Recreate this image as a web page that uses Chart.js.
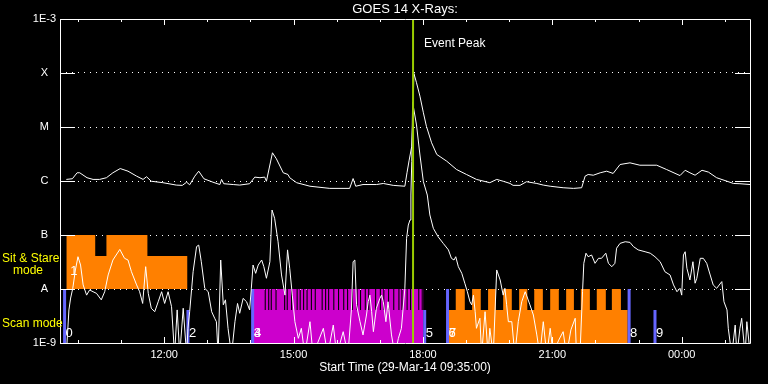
<!DOCTYPE html>
<html>
<head>
<meta charset="utf-8">
<title>GOES 14 X-Rays</title>
<script src="https://cdn.jsdelivr.net/npm/chart.js@4.4.0/dist/chart.umd.min.js"></script>
<style>
  html, body { margin: 0; padding: 0; background: #000; }
</style>
</head>
<body>
<canvas id="goes" width="768" height="384"></canvas>
<script>
// time is in decimal hours of 29-Mar-14 (values past 24 are after midnight)
const startHour = 9 + 35 / 60;
const endHour = startHour + 16;
const hourTicks = [10, 11, 12, 13, 14, 15, 16, 17, 18, 19, 20, 21, 22, 23, 24, 25];

const yTickValues = [1e-9, 1e-8, 1e-7, 1e-6, 1e-5, 1e-4, 1e-3];
const yTickLabels = ["1E-9", "A", "B", "C", "M", "X", "1E-3"];

// long channel (upper white curve)
const longTimes = [9.73, 9.87, 9.98, 10.04, 10.21, 10.35, 10.50, 10.66, 10.81, 10.98,
  11.16, 11.36, 11.51, 11.59, 11.70, 11.97, 12.28, 12.42, 12.52, 12.59,
  12.71, 12.80, 12.92, 13.13, 13.29, 13.33, 13.38, 13.60, 13.75, 13.98,
  14.10, 14.22, 14.33, 14.37, 14.51, 14.60, 14.76, 14.87, 14.91, 15.07,
  15.38, 15.84, 16.30, 16.38, 16.44, 16.61, 16.92, 17.08, 17.31, 17.58,
  17.63, 17.68, 17.74, 17.76, 17.79, 17.85, 17.93, 18.01, 18.08, 18.20,
  18.32, 18.55, 18.78, 19.01, 19.24, 19.55, 19.71, 19.86, 20.02, 20.09,
  20.25, 20.40, 20.64, 20.79, 20.95, 21.25, 21.49, 21.68, 21.76, 21.83,
  21.95, 22.11, 22.26, 22.41, 22.57, 22.80, 23.03, 23.42, 23.65, 23.96,
  24.08, 24.19, 24.31, 24.47, 24.62, 24.81, 25.05, 25.20, 25.35, 25.59];
const longFlux = [1.07e-6, 1.10e-6, 1.42e-6, 1.42e-6, 1.15e-6, 1.07e-6, 1.07e-6, 1.15e-6, 1.42e-6, 1.70e-6,
  1.52e-6, 1.23e-6, 1.07e-6, 1.20e-6, 0.99e-6, 0.93e-6, 0.84e-6, 0.83e-6, 0.95e-6, 0.85e-6,
  1.23e-6, 1.52e-6, 1.10e-6, 0.95e-6, 0.86e-6, 1.07e-6, 0.89e-6, 0.86e-6, 0.84e-6, 0.89e-6,
  1.18e-6, 1.15e-6, 1.18e-6, 0.99e-6, 3.33e-6, 2.58e-6, 1.42e-6, 1.32e-6, 1.15e-6, 0.93e-6,
  0.80e-6, 0.73e-6, 0.73e-6, 1.11e-6, 0.80e-6, 0.86e-6, 0.86e-6, 0.90e-6, 0.83e-6, 0.80e-6,
  1.42e-6, 2.43e-6, 4.41e-6, 1.20e-5, 9.8e-5, 6.6e-5, 3.72e-5, 1.83e-5, 1.03e-5, 5.1e-6,
  3.10e-6, 2.33e-6, 1.63e-6, 1.32e-6, 1.07e-6, 0.93e-6, 1.07e-6, 0.99e-6, 0.90e-6, 0.83e-6,
  0.83e-6, 0.97e-6, 0.90e-6, 0.84e-6, 0.80e-6, 0.75e-6, 0.73e-6, 0.75e-6, 1.23e-6, 1.32e-6,
  1.28e-6, 1.42e-6, 1.52e-6, 1.38e-6, 2.02e-6, 2.17e-6, 1.96e-6, 1.96e-6, 1.63e-6, 1.26e-6,
  1.58e-6, 1.42e-6, 1.28e-6, 1.58e-6, 1.46e-6, 1.15e-6, 0.99e-6, 0.90e-6, 0.89e-6, 0.86e-6];

// short channel (lower noisy curve); 6e-10 = below the plotted range
const shortTimes = [9.73, 9.79, 9.83, 9.88, 9.94, 10.00, 10.06, 10.12, 10.20, 10.27,
  10.35, 10.43, 10.54, 10.62, 10.70, 10.81, 10.97, 11.08, 11.16, 11.24,
  11.36, 11.43, 11.50, 11.57, 11.63, 11.70, 11.78, 11.86, 11.94, 12.01,
  12.09, 12.17, 12.24, 12.30, 12.36, 12.44, 12.52, 12.55, 12.59, 12.67,
  12.75, 12.80, 12.86, 12.94, 13.02, 13.10, 13.17, 13.21, 13.25, 13.31,
  13.37, 13.42, 13.48, 13.56, 13.64, 13.70, 13.75, 13.83, 13.91, 13.98,
  14.02, 14.06, 14.12, 14.18, 14.26, 14.31, 14.37, 14.45, 14.50, 14.56,
  14.64, 14.72, 14.80, 14.86, 14.91, 14.97, 15.03, 15.11, 15.18, 15.26,
  15.38, 15.45, 15.69, 15.79, 15.92, 16.00, 16.15, 16.26, 16.34, 16.38,
  16.42, 16.46, 16.54, 16.61, 16.69, 16.73, 16.77, 16.81, 16.85, 16.92,
  17.00, 17.04, 17.08, 17.14, 17.19, 17.27, 17.35, 17.43, 17.50, 17.58,
  17.62, 17.66, 17.70, 17.72, 17.74, 17.76, 17.85, 17.93, 18.01, 18.10,
  18.16, 18.24, 18.35, 18.47, 18.59, 18.66, 18.72, 18.76, 18.82, 18.90,
  18.97, 19.03, 19.09, 19.13, 19.17, 19.21, 19.24, 19.32, 19.36, 19.44,
  19.51, 19.55, 19.63, 19.71, 19.79, 19.86, 19.90, 19.94, 19.98, 20.06,
  20.13, 20.21, 20.29, 20.37, 20.40, 20.48, 20.56, 20.64, 20.71, 20.79,
  20.87, 20.95, 21.02, 21.14, 21.25, 21.33, 21.43, 21.53, 21.56, 21.64,
  21.70, 21.73, 21.78, 21.83, 21.91, 21.99, 22.07, 22.14, 22.24, 22.30,
  22.38, 22.45, 22.49, 22.57, 22.69, 22.80, 22.88, 22.99, 23.15, 23.27,
  23.38, 23.50, 23.61, 23.73, 23.81, 23.89, 23.96, 24.00, 24.04, 24.08,
  24.12, 24.19, 24.26, 24.31, 24.35, 24.43, 24.50, 24.58, 24.66, 24.73,
  24.81, 24.93, 24.98, 25.05, 25.08, 25.16, 25.24, 25.28, 25.35, 25.39,
  25.47, 25.51, 25.59];
const shortFlux = [6e-10, 4.1e-9, 6.8e-9, 1.03e-8, 2.25e-8, 3.96e-8, 2.78e-8, 1.19e-8, 7.7e-9, 9.6e-9,
  8.9e-9, 8.3e-9, 6.3e-9, 8.9e-9, 1.82e-8, 3.44e-8, 5.4e-8, 3.7e-8, 3.44e-8, 2.09e-8,
  1.19e-8, 8.9e-9, 5.4e-9, 2.59e-8, 8.3e-9, 4.4e-9, 3.8e-9, 5.8e-9, 8.9e-9, 5.4e-9,
  8.9e-9, 4.7e-9, 6e-10, 4.1e-9, 6e-10, 4.4e-9, 6e-10, 1.87e-9, 3.8e-9, 2.09e-8,
  6.1e-8, 6.5e-8, 3.2e-8, 1.03e-8, 8.9e-9, 3.8e-9, 2.87e-9, 2.48e-9, 6e-10, 3.44e-8,
  5.1e-9, 6.3e-9, 1.87e-9, 6e-10, 2.48e-9, 5.4e-9, 3.55e-9, 6.7e-9, 5.8e-9, 4.1e-9,
  1.03e-8, 2.78e-8, 1.95e-8, 2.78e-8, 3.44e-8, 2.59e-8, 1.58e-8, 3.2e-8, 2.9e-7, 2.04e-7,
  7.5e-8, 1.82e-8, 7.7e-9, 5.3e-8, 2.42e-8, 7.7e-9, 2.48e-9, 1.22e-9, 1.87e-9, 6e-10,
  2.48e-9, 6e-10, 1.87e-9, 6e-10, 2.15e-9, 6e-10, 1.62e-9, 6e-10, 4.1e-9, 3.2e-8,
  3.44e-8, 5.1e-9, 2.48e-9, 1.41e-9, 3.3e-9, 5.8e-9, 7.7e-9, 3.8e-9, 1.62e-9, 4.4e-9,
  6.7e-9, 7.7e-9, 5.8e-9, 2.48e-9, 5.8e-9, 1.41e-9, 6e-10, 1.22e-9, 1.87e-9, 1.03e-8,
  8.7e-8, 1.53e-7, 1.90e-7, 5.5e-7, 2.28e-6, 2.87e-5, 1.09e-5, 3.03e-6, 9.7e-7, 5.5e-7,
  2.35e-7, 1.33e-7, 9.3e-8, 7.0e-8, 5.3e-8, 3.7e-8, 3.44e-8, 3.96e-8, 2.59e-8, 1.95e-8,
  1.28e-8, 8.9e-9, 5.8e-9, 5.1e-9, 7.7e-9, 3.8e-9, 1.87e-9, 2.87e-9, 6e-10, 3.8e-9,
  6e-10, 1.87e-9, 6e-10, 2.25e-8, 1.47e-8, 7.7e-9, 1.03e-8, 5.1e-9, 2.48e-9, 2.48e-9,
  6e-10, 2.48e-9, 5.8e-9, 8.9e-9, 7.7e-9, 5.1e-9, 3.3e-9, 1.41e-9, 6e-10, 2.48e-9,
  6e-10, 1.87e-9, 6e-10, 1.1e-9, 1.62e-9, 6e-10, 1.75e-9, 2.87e-9, 6e-10, 6e-10,
  8.9e-9, 2.99e-8, 4.6e-8, 3.96e-8, 4.26e-8, 2.99e-8, 3.7e-8, 3.7e-8, 4.6e-8, 2.99e-8,
  2.59e-8, 2.99e-8, 5.7e-8, 7.0e-8, 7.5e-8, 7.3e-8, 6.1e-8, 5.3e-8, 4.9e-8, 4.6e-8,
  3.96e-8, 3.2e-8, 2.09e-8, 1.82e-8, 1.19e-8, 8.9e-9, 1.03e-8, 7.7e-9, 4.26e-8, 4.9e-8,
  2.42e-8, 1.47e-8, 3.2e-8, 1.28e-8, 1.58e-8, 3.7e-8, 3.7e-8, 2.99e-8, 1.82e-8, 1.19e-8,
  1.03e-8, 1.37e-8, 5.8e-9, 4.1e-9, 1.87e-9, 6e-10, 2.15e-9, 6e-10, 1.87e-9, 2.87e-9,
  6e-10, 2.48e-9, 6e-10];

// observing-mode bands
const stareTimes = [9.73, 10.40, 10.66, 11.61, 12.54];
const stareLevels = [1e-7, 4.1e-8, 1e-7, 4.1e-8, 4.1e-8];

const scanStart = 14.08;
const scanEnd = 18.01;
const scanGapTimes = [14.33, 14.41, 14.47, 14.58, 14.78, 14.84, 14.94, 15.07, 15.14, 15.22,
  15.30, 15.40, 15.49, 15.65, 15.73, 15.80, 15.92, 16.03, 16.15, 16.24,
  16.35, 16.46, 16.54, 16.65, 16.73, 16.89, 17.00, 17.08, 17.19, 17.31,
  17.43, 17.50, 17.62, 17.70, 17.89, 17.97];

const scan2Times = [18.56, 18.76, 18.97, 19.14, 19.34, 19.51, 19.69, 19.86, 20.06, 20.23,
  20.42, 20.58, 20.78, 20.95, 21.15, 21.32, 21.50, 21.66, 21.87, 22.03,
  22.24, 22.38, 22.59, 22.75];
const scan2Levels = [4.1e-9, 1e-8, 4.1e-9, 1e-8, 4.1e-9, 1e-8, 4.1e-9, 1e-8, 4.1e-9, 1e-8,
  4.1e-9, 1e-8, 4.1e-9, 1e-8, 4.1e-9, 1e-8, 4.1e-9, 1e-8, 4.1e-9, 1e-8,
  4.1e-9, 1e-8, 4.1e-9, 4.1e-9];

// numbered event markers
const markerTimes = [9.69, 12.55, 14.05, 18.04, 18.57, 22.78, 23.38];
const markerTops = [1e-8, 4.1e-9, 1e-8, 4.1e-9, 1e-8, 1e-8, 4.1e-9];
const labelNames = ["0", "1", "2", "3", "4", "5", "6", "7", "8", "9"];
const labelTimes = [9.69, 9.80, 12.55, 14.05, 14.06, 18.04, 18.57, 18.58, 22.78, 23.38];
const labelLevels = [1.5e-9, 2.1e-8, 1.5e-9, 1.5e-9, 1.5e-9, 1.5e-9, 1.5e-9, 1.5e-9, 1.5e-9, 1.5e-9];

const eventPeak = 17.77;

const FONT = '"Liberation Sans", Arial, sans-serif';
const LEVEL_A = 1e-8;
const LEVEL_LOW = 4.1e-9;
const GAP_WIDTH = 0.025;

function toPoints(xs, ys) {
  return xs.map((x, i) => ({ x: x, y: ys[i] }));
}

const scanPoints = [{ x: scanStart, y: LEVEL_A }];
scanGapTimes.forEach((t) => {
  scanPoints.push({ x: t, y: LEVEL_LOW });
  scanPoints.push({ x: t + GAP_WIDTH, y: LEVEL_A });
});
scanPoints.push({ x: scanEnd, y: LEVEL_A });

const markerPoints = [];
markerTimes.forEach((t, i) => {
  markerPoints.push({ x: t, y: 1e-9 });
  markerPoints.push({ x: t, y: markerTops[i] });
  markerPoints.push({ x: t, y: null });
});

const background = {
  id: "background",
  beforeDraw(chart) {
    const ctx = chart.ctx;
    ctx.save();
    ctx.fillStyle = "#000";
    ctx.fillRect(0, 0, chart.width, chart.height);
    ctx.restore();
  },
};

// box around the plot with inward tick marks
const frame = {
  id: "frame",
  afterDatasetsDraw(chart) {
    const { ctx, chartArea: a, scales } = chart;
    ctx.save();
    ctx.strokeStyle = "#fff";
    ctx.lineWidth = 1;
    ctx.beginPath();
    ctx.rect(Math.round(a.left) + 0.5, Math.round(a.top) + 0.5,
      Math.round(a.right - a.left), Math.round(a.bottom - a.top));
    yTickValues.slice(1, -1).forEach((v) => {
      const py = Math.round(scales.y.getPixelForValue(v)) + 0.5;
      ctx.moveTo(a.left, py);
      ctx.lineTo(a.left + 15, py);
      ctx.moveTo(a.right - 15, py);
      ctx.lineTo(a.right, py);
    });
    hourTicks.forEach((h) => {
      const px = Math.round(scales.x.getPixelForValue(h)) + 0.5;
      const len = h % 3 === 0 ? 6 : 3;
      ctx.moveTo(px, a.top);
      ctx.lineTo(px, a.top + len);
      ctx.moveTo(px, a.bottom);
      ctx.lineTo(px, a.bottom - len);
    });
    ctx.stroke();
    ctx.restore();
  },
};

const annotate = {
  id: "annotate",
  afterDraw(chart) {
    const { ctx, scales: { x, y } } = chart;
    ctx.save();
    ctx.textBaseline = "middle";
    ctx.textAlign = "left";
    ctx.fillStyle = "#fff";
    ctx.font = "13px " + FONT;
    labelNames.forEach((name, i) => {
      ctx.fillText(name, x.getPixelForValue(labelTimes[i]) + 1, y.getPixelForValue(labelLevels[i]));
    });
    ctx.font = "12px " + FONT;
    ctx.fillText("Event Peak", x.getPixelForValue(eventPeak) + 11, y.getPixelForValue(3.55e-4));
    ctx.fillStyle = "#ffff00";
    ctx.fillText("Sit & Stare", 2, 259);
    ctx.fillText("mode", 13, 271);
    ctx.fillText("Scan mode", 2, 324);
    ctx.restore();
  },
};

new Chart(document.getElementById("goes"), {
  type: "line",
  data: {
    datasets: [
      {
        label: "Event Peak",
        data: [{ x: eventPeak, y: 1e-9 }, { x: eventPeak, y: 1e-3 }],
        borderColor: "#99cc00",
        borderWidth: 2,
        pointRadius: 0,
        order: 0,
      },
      {
        label: "Long",
        data: toPoints(longTimes, longFlux),
        borderColor: "#fff",
        borderWidth: 1,
        pointRadius: 0,
        order: 1,
      },
      {
        label: "Short",
        data: toPoints(shortTimes, shortFlux),
        borderColor: "#fff",
        borderWidth: 1,
        pointRadius: 0,
        order: 1,
      },
      {
        label: "Markers",
        data: markerPoints,
        borderColor: "#6666ff",
        borderWidth: 3,
        pointRadius: 0,
        spanGaps: false,
        order: 2,
      },
      {
        label: "Sit & Stare",
        data: toPoints(stareTimes, stareLevels),
        stepped: "before",
        borderWidth: 0,
        borderColor: "rgba(0,0,0,0)",
        backgroundColor: "#ff8000",
        fill: { value: LEVEL_A },
        pointRadius: 0,
        order: 3,
      },
      {
        label: "Scan",
        data: scanPoints,
        stepped: "before",
        borderWidth: 0,
        borderColor: "rgba(0,0,0,0)",
        backgroundColor: "#cc00cc",
        fill: { value: 1e-9 },
        pointRadius: 0,
        order: 3,
      },
      {
        label: "Scan 2",
        data: toPoints(scan2Times, scan2Levels),
        stepped: "before",
        borderWidth: 0,
        borderColor: "rgba(0,0,0,0)",
        backgroundColor: "#ff8000",
        fill: { value: 1e-9 },
        pointRadius: 0,
        order: 3,
      },
    ],
  },
  options: {
    responsive: false,
    animation: false,
    layout: { padding: { left: 0, right: 18, top: 0, bottom: 0 } },
    plugins: {
      legend: { display: false },
      tooltip: { enabled: false },
      title: {
        display: true,
        text: "GOES 14 X-Rays:",
        color: "#fff",
        fullSize: false,
        font: { family: FONT, size: 13, weight: "normal" },
        padding: { top: 2, bottom: 1.4 },
      },
    },
    scales: {
      x: {
        type: "linear",
        min: startHour,
        max: endHour,
        grid: { display: false, drawTicks: false },
        border: { display: false },
        afterBuildTicks: (scale) => {
          scale.ticks = hourTicks.map((h) => ({ value: h }));
        },
        afterFit: (scale) => {
          scale.height = 41;
        },
        ticks: {
          color: "#fff",
          font: { family: FONT, size: 11 },
          padding: 5,
          maxRotation: 0,
          autoSkip: false,
          callback: (v) => (v % 3 === 0 ? String(v % 24).padStart(2, "0") + ":00" : ""),
        },
        title: {
          display: true,
          text: "Start Time (29-Mar-14 09:35:00)",
          color: "#fff",
          font: { family: FONT, size: 12 },
          padding: { top: 0, bottom: 9 },
        },
      },
      y: {
        type: "logarithmic",
        min: 1e-9,
        max: 1e-3,
        afterBuildTicks: (scale) => {
          scale.ticks = yTickValues.map((v) => ({ value: v }));
        },
        afterFit: (scale) => {
          scale.width = 60;
        },
        grid: { color: "#fff", lineWidth: 1, drawTicks: false },
        border: { display: false, dash: [1, 5] },
        ticks: {
          color: "#fff",
          font: { family: FONT, size: 11 },
          padding: 4,
          crossAlign: "center",
          autoSkip: false,
          callback: (v, i) => yTickLabels[i],
        },
      },
    },
  },
  plugins: [background, frame, annotate],
});
</script>
</body>
</html>
